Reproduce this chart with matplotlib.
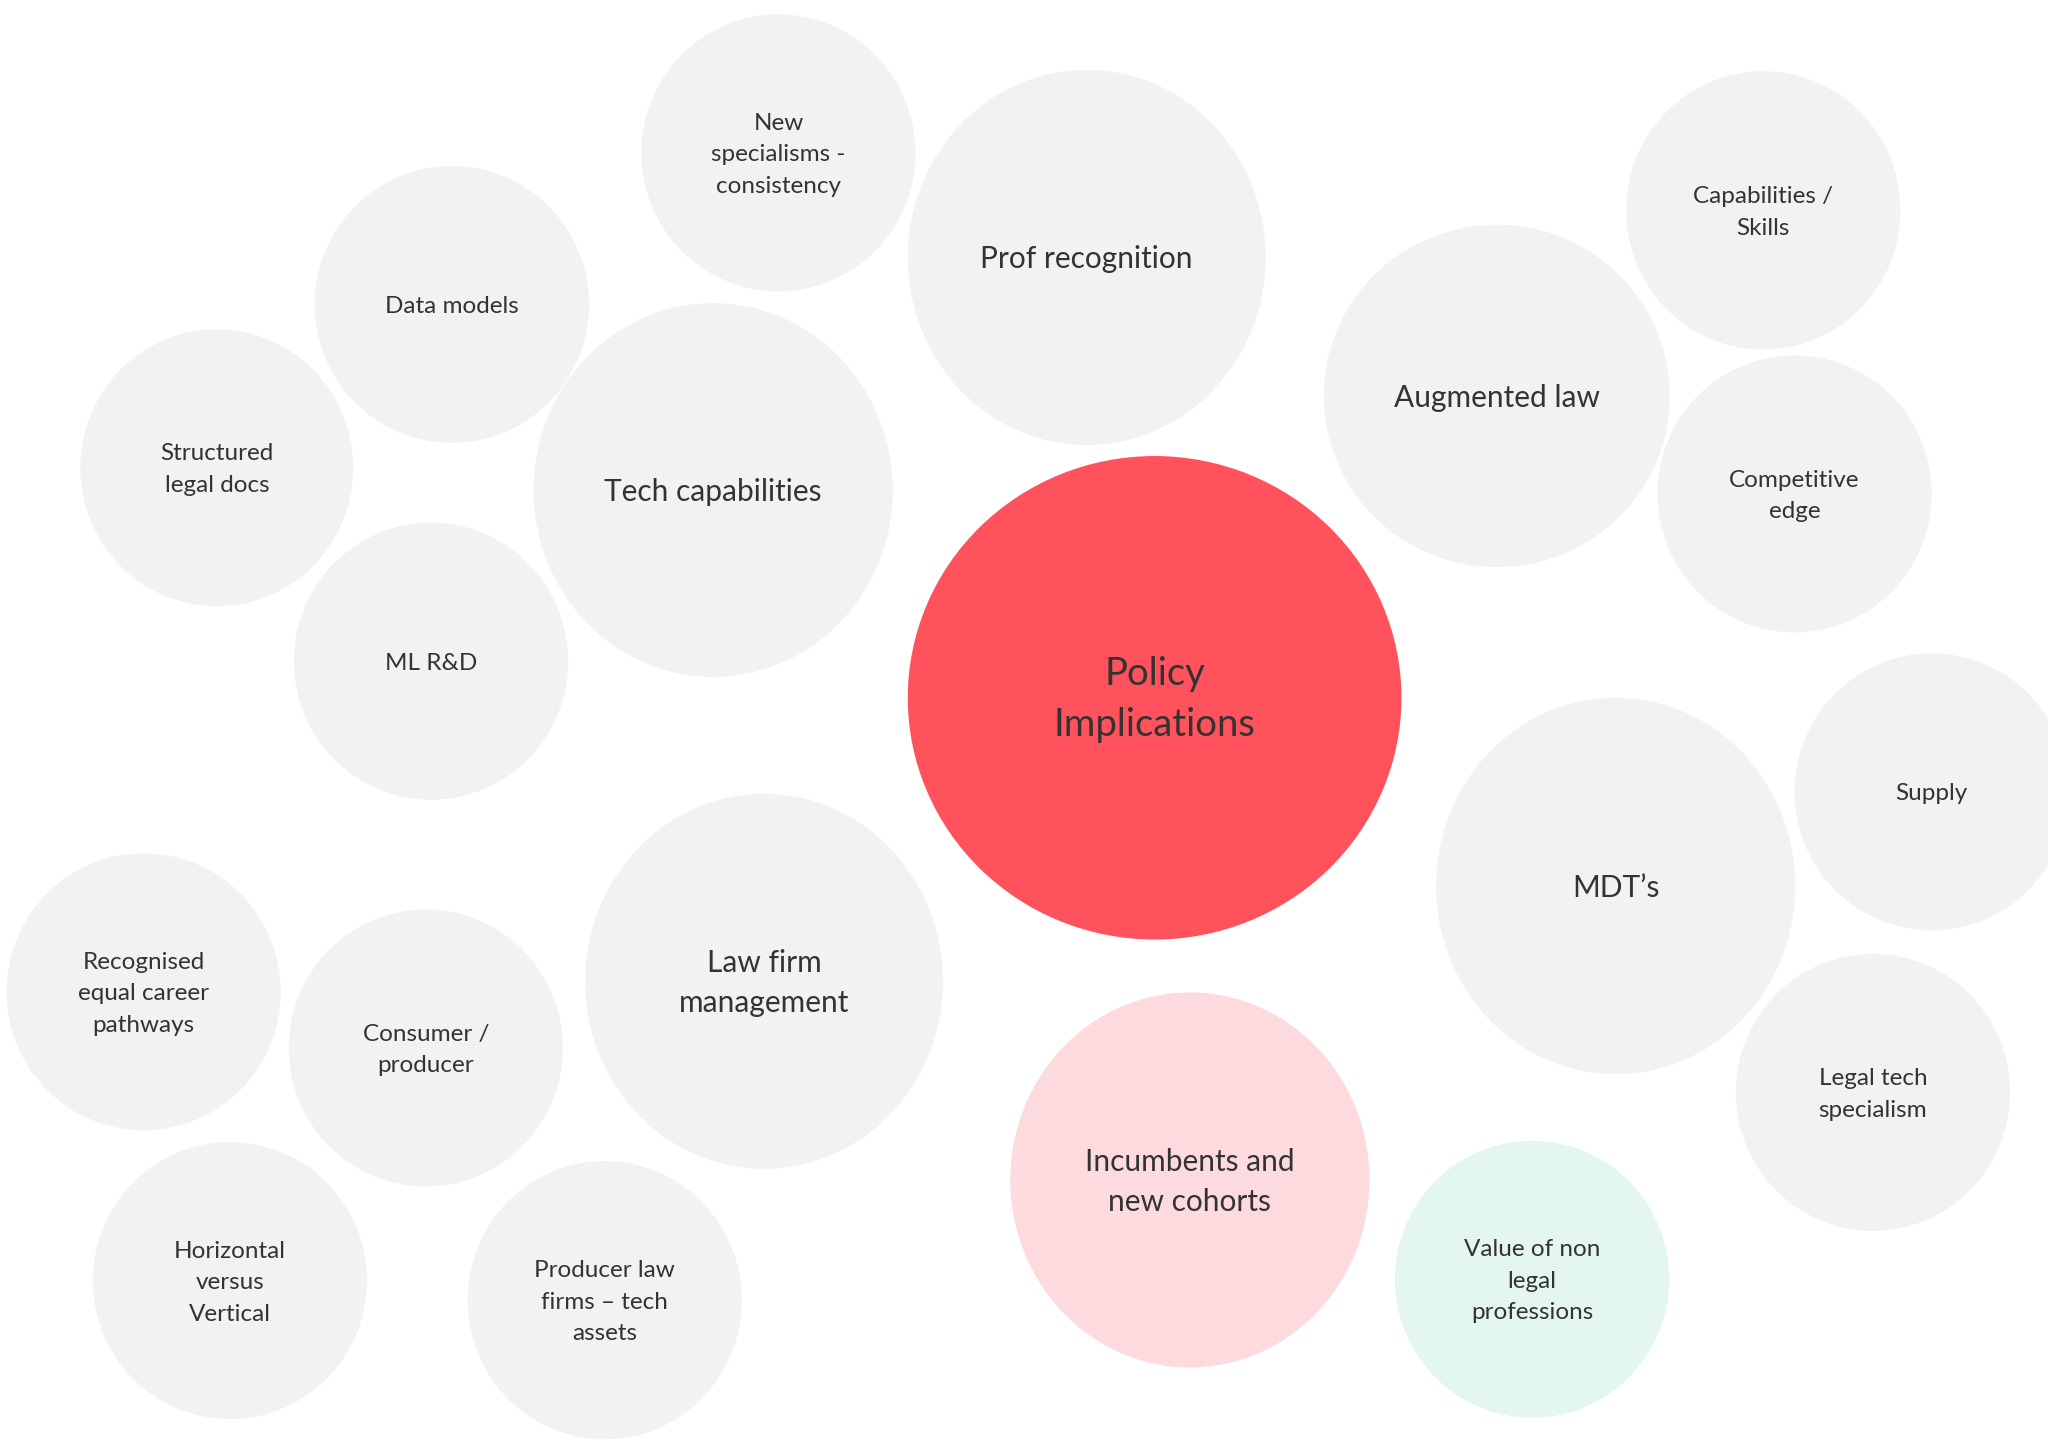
import matplotlib.pyplot as plt
from matplotlib.patches import Ellipse

# bubble layout (units: 1568 x 1102 canvas, y down)
labels = ["Policy\nImplications", "Prof recognition", "New\nspecialisms -\nconsistency",
          "Data models", "Structured\nlegal docs", "Tech capabilities", "ML R&D",
          "Augmented law", "Capabilities /\nSkills", "Competitive\nedge", "Supply",
          "MDT\u2019s", "Legal tech\nspecialism", "Value of non\nlegal\nprofessions",
          "Incumbents and\nnew cohorts", "Law firm\nmanagement", "Consumer /\nproducer",
          "Recognised\nequal career\npathways", "Horizontal\nversus\nVertical",
          "Producer law\nfirms \u2013 tech\nassets"]
cx = [884, 832, 596, 346, 166, 546, 330, 1146, 1350, 1374, 1479, 1237, 1434, 1173,
      911, 585, 326, 110, 176, 463]
cy = [534, 197, 117, 233, 358, 375, 506, 303, 161, 378, 606, 678, 836, 979,
      903, 751, 802, 759, 980, 995]
wid = [378, 274, 210, 210, 209, 275, 210, 265, 210, 210, 210, 275, 210, 210,
       275, 274, 210, 210, 210, 210]
hgt = [370, 287, 212, 212, 212, 286, 212, 262, 213, 212, 212, 288, 212, 212,
       287, 287, 212, 212, 212, 213]
kind = ["main", "mid", "small", "small", "small", "mid", "small", "mid", "small", "small",
        "small", "mid", "small", "mint", "pink", "mid", "small", "small", "small", "small"]

fills = {"main": "#FF525D", "mid": "#F2F2F2", "small": "#F2F2F2",
         "pink": "#FDDADE", "mint": "#E3F7EF"}
sizes = {"main": 27.5, "mid": 21.5, "small": 17.5, "pink": 21.5, "mint": 17.5}
spacing = {"main": 1.5, "mid": 1.52, "small": 1.62, "pink": 1.52, "mint": 1.62}

plt.rcParams['font.family'] = ['Lato', 'DejaVu Sans']

fig = plt.figure(figsize=(20.48, 14.4), dpi=100)
ax = fig.add_axes([0, 0, 1, 1])
ax.set_xlim(0, 1568)
ax.set_ylim(1102, 0)
ax.axis('off')

for lab, x, y, w, h, k in zip(labels, cx, cy, wid, hgt, kind):
    ax.add_patch(Ellipse((x, y), w, h, facecolor=fills[k], edgecolor='none'))
    ax.text(x, y + 1.5, lab, ha='center', va='center', fontsize=sizes[k],
            color='#333333', linespacing=spacing[k])

fig.savefig('out.png', dpi=100, facecolor='white')
